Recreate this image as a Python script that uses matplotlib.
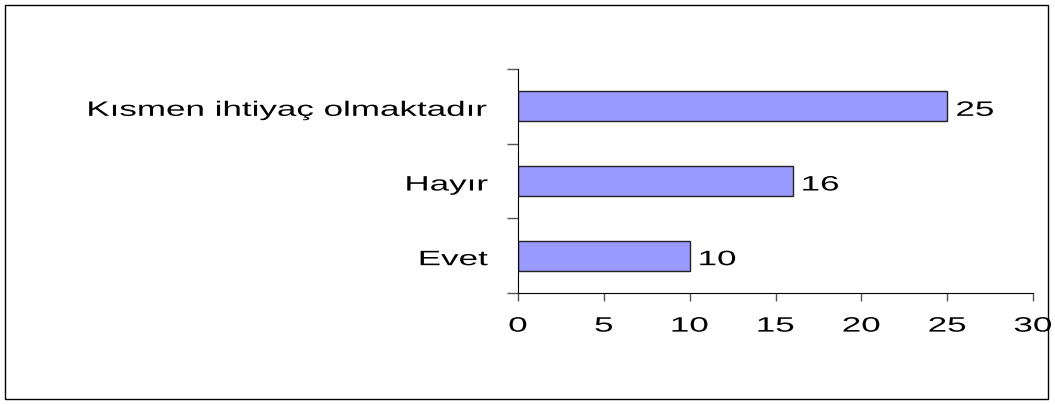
import numpy as np
import matplotlib.pyplot as plt
from matplotlib.patches import Rectangle
from matplotlib.patheffects import AbstractPathEffect
from matplotlib.transforms import Affine2D, blended_transform_factory, offset_copy

plt.rcParams['font.family'] = ['Liberation Sans', 'DejaVu Sans']

# data
categories = ["Evet", "Hayır", "Kısmen ihtiyaç olmaktadır"]
values = [10, 16, 25]
xticks = [0, 5, 10, 15, 20, 25, 30]

FS = 15
SX = 1.68  # the original text is drawn horizontally stretched


class HStretch(AbstractPathEffect):
    """Stretch glyphs horizontally around the left / center / right edge."""

    def __init__(self, sx, anchor='left'):
        super().__init__()
        self.sx = sx
        self.anchor = anchor

    def draw_path(self, renderer, gc, tpath, affine, rgbFace=None):
        ext = tpath.get_extents()
        x0 = {'left': ext.x0, 'right': ext.x1,
              'center': (ext.x0 + ext.x1) / 2}[self.anchor]
        t = Affine2D().translate(-x0, 0).scale(self.sx, 1).translate(x0, 0) + affine
        renderer.draw_path(gc, tpath, t, rgbFace)


fig = plt.figure(figsize=(10.55, 4.06), dpi=100)
ax = fig.add_axes([518 / 1055, 1 - 294 / 406, 515 / 1055, 224 / 406])

pos = np.arange(len(categories))
bars = ax.barh(pos, values, height=0.4, color='#9999FF',
               edgecolor='#222222', linewidth=1)

ax.set_xlim(0, 30)
ax.set_ylim(-0.5, len(categories) - 0.5)
ax.set_xticks(xticks)
ax.set_xticklabels([str(t) for t in xticks], fontsize=FS)
for lab in ax.get_xticklabels():
    lab.set_path_effects([HStretch(SX, 'center')])

# category ticks on the boundaries, no tick labels
ax.set_yticks(np.arange(-0.5, len(categories), 1.0))
ax.set_yticklabels([])
ax.tick_params(axis='y', which='major', length=8, width=1, color='#555555')
ax.tick_params(axis='x', length=6, width=1, color='#555555', pad=11)

for s in ['top', 'right']:
    ax.spines[s].set_visible(False)

# category names (baseline ~9px below the bar center, right edge 30px left of the axis)
blend = blended_transform_factory(ax.transAxes, ax.transData)
cat_tr = offset_copy(blend, fig=fig, x=-30, y=-9.5, units='dots')
for p, c in zip(pos, categories):
    t = ax.text(0, p, c, transform=cat_tr, ha='right', va='baseline', fontsize=FS)
    t.set_path_effects([HStretch(SX, 'right')])

# value labels
val_tr = offset_copy(ax.transData, fig=fig, x=9, y=-9.5, units='dots')
for b, v in zip(bars, values):
    t = ax.text(b.get_width(), b.get_y() + b.get_height() / 2, str(v),
                transform=val_tr, ha='left', va='baseline', fontsize=FS)
    t.set_path_effects([HStretch(SX, 'left')])

# outer border
fig.patches.append(Rectangle((5 / 1055, 6 / 406), 1043 / 1055, 394 / 406,
                             transform=fig.transFigure, fill=False,
                             edgecolor='black', linewidth=1))

fig.savefig("out.png", dpi=100)
